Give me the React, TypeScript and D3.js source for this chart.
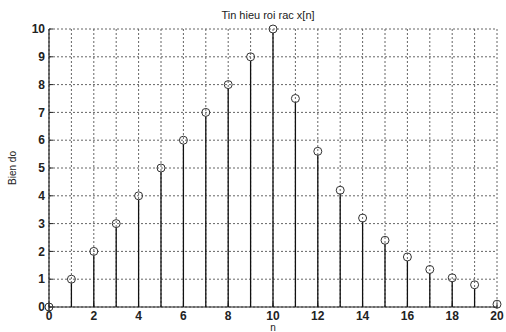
import * as React from 'react';
import * as d3 from 'd3';

// samples of x[n]
const nValues = [0, 1, 2, 3, 4, 5, 6, 7, 8, 9, 10, 11, 12, 13, 14, 15, 16, 17, 18, 19, 20];
const amplitudes = [0, 1, 2, 3, 4, 5, 6, 7, 8, 9, 10, 7.5, 5.6, 4.2, 3.2, 2.4, 1.8, 1.35, 1.05, 0.8, 0.1];
const xTicks = [0, 2, 4, 6, 8, 10, 12, 14, 16, 18, 20];
const yTicks = [0, 1, 2, 3, 4, 5, 6, 7, 8, 9, 10];
const xGrid = [0, 1, 2, 3, 4, 5, 6, 7, 8, 9, 10, 11, 12, 13, 14, 15, 16, 17, 18, 19, 20];

const W = 506, H = 332;
const m = { left: 49, right: 9, top: 29, bottom: 25 };

export default function App() {
    const x = d3.scaleLinear().domain([0, 20]).range([m.left, W - m.right]);
    const y = d3.scaleLinear().domain([0, 10]).range([H - m.bottom, m.top]);
    const font = "'Liberation Sans', Arial, sans-serif";
    const ink = "#222";

    return (
        <svg width={W} height={H} style={{position: 'absolute', left: 0, top: 0, background: '#fff'}}>
            {/* dotted grid */}
            <g stroke="#333" strokeWidth={1} strokeDasharray="2,2" opacity={0.75}>
                {xGrid.map(v => (
                    <line key={'gx' + v} x1={x(v)} x2={x(v)} y1={y(0)} y2={y(10)} />
                ))}
                {yTicks.map(v => (
                    <line key={'gy' + v} x1={x(0)} x2={x(20)} y1={y(v)} y2={y(v)} />
                ))}
            </g>
            {/* axes */}
            <line x1={x(0)} x2={x(0)} y1={y(0)} y2={y(10)} stroke={ink} strokeWidth={1.2} />
            <line x1={x(0)} x2={x(20)} y1={y(0)} y2={y(0)} stroke={ink} strokeWidth={1.2} />
            {yTicks.map(v => (
                <line key={'ty' + v} x1={x(0)} x2={x(0) + 4} y1={y(v)} y2={y(v)} stroke={ink} />
            ))}
            {xTicks.map(v => (
                <line key={'tx' + v} x1={x(v)} x2={x(v)} y1={y(0)} y2={y(0) - 4} stroke={ink} />
            ))}
            {/* stems */}
            <g stroke="#111" strokeWidth={1.3}>
                {nValues.map((n, i) => (
                    <line key={'s' + n} x1={x(n)} x2={x(n)} y1={y(0)} y2={y(amplitudes[i]) + 4} />
                ))}
            </g>
            <g fill="none" stroke="#333" strokeWidth={1}>
                {nValues.map((n, i) => (
                    <circle key={'c' + n} cx={x(n)} cy={y(amplitudes[i])} r={4} />
                ))}
            </g>
            {/* tick labels */}
            <g fontFamily={font} fontSize={12} fontWeight="bold" fill={ink}>
                {yTicks.map(v => (
                    <text key={'ly' + v} x={x(0) - 4} y={y(v)} dy="0.35em" textAnchor="end">{v}</text>
                ))}
                {xTicks.map(v => (
                    <text key={'lx' + v} x={x(v)} y={y(0) + 13} textAnchor="middle">{v}</text>
                ))}
            </g>
            <text x={268} y={19} textAnchor="middle" fontFamily={font} fontSize={11} fill={ink}>Tin hieu roi rac x[n]</text>
            <text x={x(10)} y={H - 1} textAnchor="middle" fontFamily={font} fontSize={10} fill={ink}>n</text>
            <text transform={`translate(16,${y(5)}) rotate(-90)`} textAnchor="middle" fontFamily={font} fontSize={10} fill={ink}>Bien do</text>
        </svg>
    );
}
